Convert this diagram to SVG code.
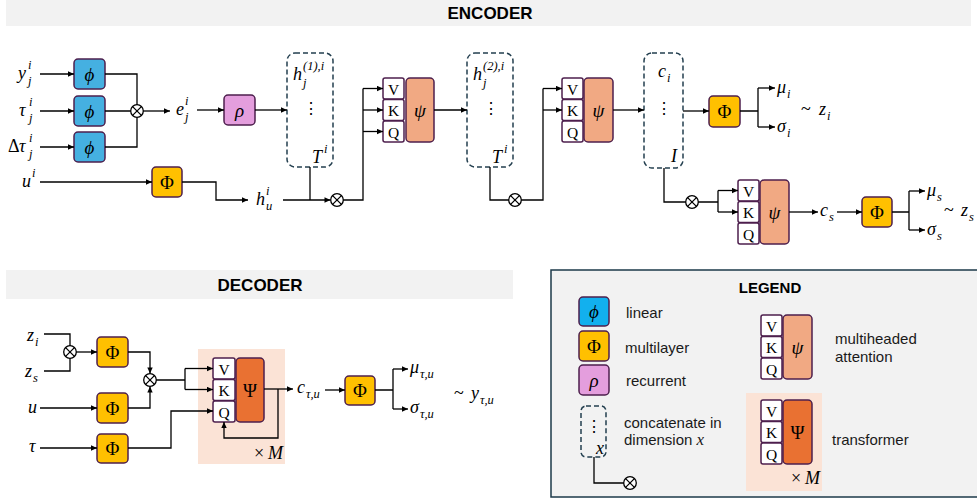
<svg xmlns="http://www.w3.org/2000/svg" xmlns:xlink="http://www.w3.org/1999/xlink" width="977" height="501" viewBox="0 0 977 501">
  <style>
    .bar { fill: #F2F2F2; }
    .title { font-family: "Liberation Sans", Arial, sans-serif; font-weight: bold; fill: #000; text-anchor: middle; }
    .lbl { font-family: "Liberation Sans", Arial, sans-serif; font-size: 15px; fill: #1a1a1a; }
    .m { font-family: "Liberation Serif", "DejaVu Serif", serif; font-style: italic; font-size: 18px; fill: #000; }
    .s { font-size: 12.5px; }
    .up { font-style: normal; }
    .box { stroke: #4d1f4d; stroke-width: 1.5; }
    .lin { fill: #45B0E1; }
    .linL { fill: #12B0EE; }
    .mlp { fill: #FFC000; }
    .rec { fill: #E49EDD; }
    .att { fill: #F1A983; }
    .trf { fill: #E97132; }
    .kv { fill: #FFFFFF; }
    .sym { font-family: "Liberation Serif", "DejaVu Serif", serif; font-size: 19px; text-anchor: middle; fill: #000; }
    .kvt { font-family: "Liberation Serif", "DejaVu Serif", serif; font-size: 15.5px; text-anchor: middle; fill: #000; }
    .dash { fill: none; stroke: #233f4f; stroke-width: 1.5; stroke-dasharray: 5 3; }
    .peach { fill: #FBE3D6; }
    .c { fill: none; stroke: #000; stroke-width: 1.3; }
    .ca { fill: none; stroke: #000; stroke-width: 1.3; marker-end: url(#ah); }
  </style>
  <defs>
    <marker id="ah" viewBox="0 0 10 10" refX="10" refY="5" markerWidth="7" markerHeight="6" markerUnits="userSpaceOnUse" orient="auto">
      <path d="M0,0.5 L10,5 L0,9.5 z" fill="#000"/>
    </marker>
    <g id="otimes">
      <circle r="6.3" fill="#fff" stroke="#000" stroke-width="1.3"/>
      <path d="M-4.4,-4.4 L4.4,4.4 M-4.4,4.4 L4.4,-4.4" stroke="#000" stroke-width="1.3"/>
    </g>
  </defs>

  <!-- section headers -->
  <rect class="bar" x="6" y="0" width="965" height="26"/>
  <text class="title" x="490" y="19" font-size="17">ENCODER</text>
  <rect class="bar" x="6" y="270" width="507" height="29"/>
  <text class="title" x="260" y="291" font-size="17">DECODER</text>

  <!-- ===================== ENCODER ===================== -->
  <g id="enc-inputs">
    <text class="m"><tspan x="18" y="79">y</tspan><tspan class="s" x="28" y="69">i</tspan><tspan class="s" x="28" y="85">j</tspan></text>
    <text class="m"><tspan x="19" y="116">τ</tspan><tspan class="s" x="29" y="106">i</tspan><tspan class="s" x="29" y="122">j</tspan></text>
    <text class="m"><tspan class="up" x="8" y="152">Δ</tspan><tspan x="19" y="152">τ</tspan><tspan class="s" x="29" y="142">i</tspan><tspan class="s" x="29" y="158">j</tspan></text>
    <text class="m"><tspan x="22" y="187">u</tspan><tspan class="s" x="32" y="177">i</tspan></text>
  </g>
  <g id="enc-lin-y"><rect class="box lin" x="74" y="59" width="31" height="30" rx="4"/><text class="sym" x="89.5" y="81" font-style="italic">ϕ</text></g>
  <g id="enc-lin-tau"><rect class="box lin" x="74" y="96" width="31" height="30" rx="4"/><text class="sym" x="89.5" y="118" font-style="italic">ϕ</text></g>
  <g id="enc-lin-dtau"><rect class="box lin" x="74" y="132" width="31" height="30" rx="4"/><text class="sym" x="89.5" y="154" font-style="italic">ϕ</text></g>
  <g id="enc-e"><text class="m"><tspan x="176" y="115">e</tspan><tspan class="s" x="185" y="105">i</tspan><tspan class="s" x="185" y="121">j</tspan></text></g>
  <g id="enc-rho"><rect class="box rec" x="224" y="95" width="31" height="30" rx="4"/><text class="sym" x="239.5" y="117" font-style="italic">ρ</text></g>
  <g id="enc-mlp-u"><rect class="box mlp" x="152" y="167" width="30" height="30" rx="4"/><text class="sym" x="167" y="189">Φ</text></g>
  <g id="enc-hu"><text class="m"><tspan x="256" y="205">h</tspan><tspan class="s" x="266" y="195">i</tspan><tspan class="s" x="266" y="210">u</tspan></text></g>

  <g id="enc-concat1">
    <rect class="dash" x="287" y="53" width="46" height="114" rx="8"/>
    <text class="m"><tspan x="293" y="80">h</tspan><tspan class="s" x="303" y="70">(1),i</tspan><tspan class="s" x="303" y="87">j</tspan></text>
    <text class="kvt" x="311" y="114">⋮</text>
    <text class="m"><tspan x="312" y="163">T</tspan><tspan class="s" x="324" y="153">i</tspan></text>
  </g>
  <g id="enc-att1">
    <rect class="box kv" x="383" y="78" width="21" height="21" rx="2"/><text class="kvt" x="393.5" y="94.5">V</text>
    <rect class="box kv" x="383" y="99.5" width="21" height="21" rx="2"/><text class="kvt" x="393.5" y="116">K</text>
    <rect class="box kv" x="383" y="121" width="21" height="21" rx="2"/><text class="kvt" x="393.5" y="137.5">Q</text>
    <rect class="box att" x="406" y="78" width="28" height="64" rx="4"/><text class="sym" x="420" y="117" font-style="italic">ψ</text>
  </g>
  <g id="enc-concat2">
    <rect class="dash" x="467" y="53" width="46" height="114" rx="8"/>
    <text class="m"><tspan x="473" y="80">h</tspan><tspan class="s" x="483" y="70">(2),i</tspan><tspan class="s" x="483" y="87">j</tspan></text>
    <text class="kvt" x="491" y="114">⋮</text>
    <text class="m"><tspan x="492" y="163">T</tspan><tspan class="s" x="504" y="153">i</tspan></text>
  </g>
  <g id="enc-att2">
    <rect class="box kv" x="562" y="78" width="21" height="21" rx="2"/><text class="kvt" x="572.5" y="94.5">V</text>
    <rect class="box kv" x="562" y="99.5" width="21" height="21" rx="2"/><text class="kvt" x="572.5" y="116">K</text>
    <rect class="box kv" x="562" y="121" width="21" height="21" rx="2"/><text class="kvt" x="572.5" y="137.5">Q</text>
    <rect class="box att" x="584" y="78" width="29" height="64" rx="4"/><text class="sym" x="598.5" y="117" font-style="italic">ψ</text>
  </g>
  <g id="enc-concat3">
    <rect class="dash" x="644" y="53" width="39" height="115" rx="8"/>
    <text class="m"><tspan x="658" y="77">c</tspan><tspan class="s" x="667" y="82">i</tspan></text>
    <text class="kvt" x="664" y="114">⋮</text>
    <text class="m" x="671" y="162">I</text>
  </g>
  <g id="enc-mlp-zi"><rect class="box mlp" x="709" y="96" width="31" height="31" rx="4"/><text class="sym" x="724.5" y="118">Φ</text></g>
  <g id="enc-zi">
    <text class="m"><tspan x="777" y="93">μ</tspan><tspan class="s" x="787" y="98">i</tspan></text>
    <text class="m"><tspan x="777" y="132">σ</tspan><tspan class="s" x="787" y="137">i</tspan></text>
    <text class="m"><tspan class="up" x="801" y="115">~ </tspan><tspan x="819" y="115">z</tspan><tspan class="s" x="827" y="120">i</tspan></text>
  </g>
  <g id="enc-att3">
    <rect class="box kv" x="738" y="180" width="21" height="21" rx="2"/><text class="kvt" x="748.5" y="196.5">V</text>
    <rect class="box kv" x="738" y="201.5" width="21" height="21" rx="2"/><text class="kvt" x="748.5" y="218">K</text>
    <rect class="box kv" x="738" y="223" width="21" height="21" rx="2"/><text class="kvt" x="748.5" y="239.5">Q</text>
    <rect class="box att" x="760" y="180" width="29" height="64" rx="4"/><text class="sym" x="774.5" y="219" font-style="italic">ψ</text>
  </g>
  <g id="enc-cs"><text class="m"><tspan x="820" y="216">c</tspan><tspan class="s" x="829" y="221">s</tspan></text></g>
  <g id="enc-mlp-zs"><rect class="box mlp" x="862" y="197" width="30" height="30" rx="4"/><text class="sym" x="877" y="219">Φ</text></g>
  <g id="enc-zs">
    <text class="m"><tspan x="927" y="196">μ</tspan><tspan class="s" x="937" y="201">s</tspan></text>
    <text class="m"><tspan x="927" y="235">σ</tspan><tspan class="s" x="937" y="240">s</tspan></text>
    <text class="m"><tspan class="up" x="944" y="216">~ </tspan><tspan x="961" y="216">z</tspan><tspan class="s" x="969" y="221">s</tspan></text>
  </g>

  <!-- ===================== DECODER ===================== -->
  <g id="dec-inputs">
    <text class="m"><tspan x="27" y="341">z</tspan><tspan class="s" x="35" y="346">i</tspan></text>
    <text class="m"><tspan x="25" y="377">z</tspan><tspan class="s" x="33" y="382">s</tspan></text>
    <text class="m" x="28" y="413">u</text>
    <text class="m" x="29" y="452">τ</text>
  </g>
  <g id="dec-mlp-z"><rect class="box mlp" x="97" y="337" width="31" height="30" rx="4"/><text class="sym" x="112.5" y="359">Φ</text></g>
  <g id="dec-mlp-u"><rect class="box mlp" x="97" y="393" width="31" height="30" rx="4"/><text class="sym" x="112.5" y="415">Φ</text></g>
  <g id="dec-mlp-tau"><rect class="box mlp" x="97" y="434" width="31" height="29" rx="4"/><text class="sym" x="112.5" y="455">Φ</text></g>
  <g id="dec-transformer">
    <rect class="peach" x="198" y="349" width="87" height="115"/>
    <rect class="box kv" x="213" y="358" width="22" height="21" rx="2"/><text class="kvt" x="224" y="374.5">V</text>
    <rect class="box kv" x="213" y="379.5" width="22" height="21" rx="2"/><text class="kvt" x="224" y="396">K</text>
    <rect class="box kv" x="213" y="401" width="22" height="21" rx="2"/><text class="kvt" x="224" y="417.5">Q</text>
    <rect class="box trf" x="236" y="358" width="28" height="64" rx="4"/><text class="sym" x="250" y="397">Ψ</text>
    <text class="m"><tspan class="up" x="254" y="459">× </tspan><tspan x="268" y="459">M</tspan></text>
  </g>
  <g id="dec-c"><text class="m"><tspan x="297" y="393">c</tspan><tspan class="s" x="306" y="398">τ,u</tspan></text></g>
  <g id="dec-mlp-out"><rect class="box mlp" x="345" y="376" width="30" height="29" rx="4"/><text class="sym" x="360" y="397">Φ</text></g>
  <g id="dec-out">
    <text class="m"><tspan x="410" y="373">μ</tspan><tspan class="s" x="420" y="378">τ,u</tspan></text>
    <text class="m"><tspan x="410" y="413">σ</tspan><tspan class="s" x="420" y="418">τ,u</tspan></text>
    <text class="m"><tspan class="up" x="454" y="399">~ </tspan><tspan x="471" y="399">y</tspan><tspan class="s" x="480" y="404">τ,u</tspan></text>
  </g>

  <!-- connectors -->
  <g id="connectors">
    <!-- encoder -->
    <path class="ca" d="M40,74 H74"/>
    <path class="ca" d="M40,111 H74"/>
    <path class="ca" d="M40,147 H74"/>
    <path class="c" d="M105,74 H137 V147 H105 M105,111 H137"/>
    <path class="ca" d="M143,111 H170"/>
    <path class="ca" d="M197,110 H224"/>
    <path class="ca" d="M255,110 H287"/>
    <path class="ca" d="M40,182 H152"/>
    <path class="ca" d="M182,182 H216 V200 H248"/>
    <path class="c" d="M310,167 V200"/>
    <path class="ca" d="M283,200 H330.5"/>
    <path class="c" d="M343,200 H363 V88.5"/>
    <path class="ca" d="M363,88.5 H383"/>
    <path class="ca" d="M363,110 H383"/>
    <path class="ca" d="M363,131.5 H383"/>
    <path class="ca" d="M434,110 H467"/>
    <path class="c" d="M490,167 V200 H509"/>
    <path class="c" d="M521,200 H543 V88.5"/>
    <path class="ca" d="M543,88.5 H562"/>
    <path class="ca" d="M543,110 H562"/>
    <path class="ca" d="M613,110 H644"/>
    <path class="ca" d="M683,111 H709"/>
    <path class="c" d="M740,111 H758 M758,88 V127"/>
    <path class="ca" d="M758,88 H775"/>
    <path class="ca" d="M758,127 H775"/>
    <path class="c" d="M664,168 V202 H686"/>
    <path class="c" d="M698,202 H718 M718,190.5 V212"/>
    <path class="ca" d="M718,190.5 H738"/>
    <path class="ca" d="M718,212 H738"/>
    <path class="ca" d="M789,212 H818"/>
    <path class="ca" d="M837,212 H862"/>
    <path class="c" d="M892,212 H909 M909,191 V230"/>
    <path class="ca" d="M909,191 H925"/>
    <path class="ca" d="M909,230 H925"/>
    <use xlink:href="#otimes" x="137" y="111"/>
    <use xlink:href="#otimes" x="337" y="200"/>
    <use xlink:href="#otimes" x="515" y="200"/>
    <use xlink:href="#otimes" x="692" y="202"/>

    <!-- decoder -->
    <path class="c" d="M44,334 H70 V346"/>
    <path class="c" d="M44,371 H70 V358"/>
    <path class="ca" d="M76,352 H97"/>
    <path class="ca" d="M128,352 H150 V373.5"/>
    <path class="ca" d="M40,408 H97"/>
    <path class="ca" d="M128,408 H150 V386.5"/>
    <path class="ca" d="M40,448 H97"/>
    <path class="ca" d="M128,448 H171 V411 H213"/>
    <path class="c" d="M156,380 H185 M185,368.5 V389.5"/>
    <path class="ca" d="M185,368.5 H213"/>
    <path class="ca" d="M185,389.5 H213"/>
    <path class="ca" d="M264,389 H293"/>
    <path class="ca" d="M278,389 V438 H224 V422"/>
    <path class="ca" d="M325,390 H345"/>
    <path class="c" d="M375,390 H393 M393,369 V409"/>
    <path class="ca" d="M393,369 H408"/>
    <path class="ca" d="M393,409 H408"/>
    <use xlink:href="#otimes" x="70" y="352"/>
    <use xlink:href="#otimes" x="150" y="380"/>
  </g>

  <!-- ===================== LEGEND ===================== -->
  <g id="legend">
    <rect x="551" y="270" width="440" height="227" fill="#F2F2F2" stroke="#1d3a4a" stroke-width="1.5"/>
    <text class="title" x="770" y="293" font-size="15">LEGEND</text>
    <g id="leg-linear"><rect class="box linL" x="579" y="297" width="30" height="29" rx="4"/><text class="sym" x="594" y="318" font-style="italic">ϕ</text><text class="lbl" x="626" y="318">linear</text></g>
    <g id="leg-multilayer"><rect class="box mlp" x="579" y="331" width="30" height="30" rx="4"/><text class="sym" x="594" y="353">Φ</text><text class="lbl" x="625" y="353">multilayer</text></g>
    <g id="leg-recurrent"><rect class="box rec" x="579" y="365" width="30" height="30" rx="4"/><text class="sym" x="594" y="387" font-style="italic">ρ</text><text class="lbl" x="626" y="386">recurrent</text></g>
    <g id="leg-concat">
      <rect class="dash" x="581" y="406" width="25" height="51" rx="5"/>
      <text class="kvt" x="594" y="432">⋮</text>
      <text class="m" x="596" y="454" font-size="16">x</text>
      <path class="c" d="M594,457 V483 H624"/>
      <use xlink:href="#otimes" x="630" y="483"/>
      <text class="lbl" x="624" y="428">concatenate in</text>
      <text class="lbl" x="624" y="445">dimension <tspan font-family="Liberation Serif, serif" font-style="italic" font-size="17">x</tspan></text>
    </g>
    <g id="leg-attention">
      <rect class="box kv" x="761" y="315" width="21" height="21" rx="2"/><text class="kvt" x="771.5" y="331.5">V</text>
      <rect class="box kv" x="761" y="336.5" width="21" height="21" rx="2"/><text class="kvt" x="771.5" y="353">K</text>
      <rect class="box kv" x="761" y="358" width="21" height="21" rx="2"/><text class="kvt" x="771.5" y="374.5">Q</text>
      <rect class="box att" x="783" y="315" width="29" height="64" rx="4"/><text class="sym" x="797.5" y="354" font-style="italic">ψ</text>
      <text class="lbl" x="835" y="344">multiheaded</text>
      <text class="lbl" x="835" y="362">attention</text>
    </g>
    <g id="leg-transformer">
      <rect class="peach" x="746" y="393" width="76" height="98"/>
      <rect class="box kv" x="761" y="400" width="21" height="21" rx="2"/><text class="kvt" x="771.5" y="416.5">V</text>
      <rect class="box kv" x="761" y="421.5" width="21" height="21" rx="2"/><text class="kvt" x="771.5" y="438">K</text>
      <rect class="box kv" x="761" y="443" width="21" height="21" rx="2"/><text class="kvt" x="771.5" y="459.5">Q</text>
      <rect class="box trf" x="783" y="400" width="29" height="64" rx="4"/><text class="sym" x="797.5" y="439">Ψ</text>
      <text class="m"><tspan class="up" x="791" y="484">× </tspan><tspan x="805" y="484">M</tspan></text>
      <text class="lbl" x="832" y="445">transformer</text>
    </g>
  </g>
</svg>
